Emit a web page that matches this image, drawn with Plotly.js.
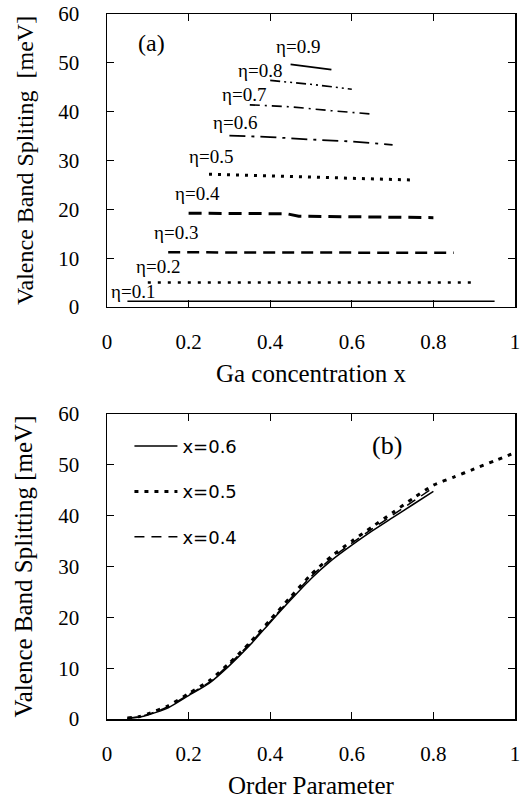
<!DOCTYPE html>
<html>
<head>
<meta charset="utf-8">
<script src="https://cdn.plot.ly/plotly-3.0.1.min.js"></script>
<style>html,body{margin:0;padding:0;background:#fff;}#chart{width:528px;height:801px;}</style>
</head>
<body>
<div id="chart"></div>
<script>
// ---------- Panel (a): splitting vs Ga concentration, one curve per order parameter ----------
const etaLabels = ['η=0.1','η=0.2','η=0.3','η=0.4','η=0.5','η=0.6','η=0.7','η=0.8','η=0.9'];
const eta01X = [0.05, 0.95];                    const eta01Y = [1.2, 1.2];
const eta02X = [0.10, 0.90];                    const eta02Y = [5.0, 5.0];
const eta03X = [0.15, 0.50, 0.85];              const eta03Y = [11.2, 11.2, 11.1];
const eta04X = [0.20, 0.44, 0.47, 0.80];        const eta04Y = [19.2, 19.1, 18.6, 18.3];
const eta05X = [0.25, 0.50, 0.75];              const eta05Y = [27.2, 26.6, 26.0];
const eta06X = [0.30, 0.40, 0.50, 0.60, 0.70];  const eta06Y = [35.1, 34.8, 34.3, 33.9, 33.2];
const eta07X = [0.35, 0.45, 0.55, 0.65];        const eta07Y = [41.4, 41.0, 40.2, 39.5];
const eta08X = [0.40, 0.50, 0.60];              const eta08Y = [46.4, 45.6, 44.6];
const eta09X = [0.45, 0.55];                    const eta09Y = [49.7, 48.6];
// label anchor positions (data coords) for the η labels
const etaLabelX = [0.064, 0.125, 0.169, 0.221, 0.255, 0.314, 0.336, 0.375, 0.468];
const etaLabelY = [3.1, 8.2, 15.2, 23.2, 30.9, 37.7, 43.6, 48.4, 53.3];

// ---------- Panel (b): splitting vs order parameter for three Ga concentrations ----------
const seriesNames = ['x=0.6', 'x=0.5', 'x=0.4'];
const orderA = [0.05, 0.08, 0.10, 0.15, 0.20, 0.25, 0.30, 0.35, 0.40, 0.45, 0.50, 0.55, 0.60, 0.65, 0.70, 0.75, 0.80];
const split06 = [0.1, 0.4, 0.8, 2.2, 4.6, 7.0, 10.5, 14.5, 19.0, 23.4, 27.6, 31.2, 34.2, 37.0, 39.6, 42.2, 44.8];
const orderB = [0.05, 0.08, 0.10, 0.15, 0.20, 0.25, 0.30, 0.35, 0.40, 0.45, 0.50, 0.55, 0.60, 0.65, 0.70, 0.75, 0.80, 0.85, 0.90, 0.95, 1.00];
const split05 = [0.2, 0.5, 1.0, 2.6, 5.0, 7.5, 11.0, 15.0, 19.5, 24.0, 28.4, 32.0, 35.0, 37.8, 40.6, 43.4, 46.0, 47.6, 49.2, 50.8, 52.4];
const split04 = [0.15, 0.45, 0.9, 2.4, 4.8, 7.2, 10.8, 14.8, 19.2, 23.7, 28.0, 31.6, 34.6, 37.4, 40.1, 42.8, 45.5];

const xTickVals = [0, 0.2, 0.4, 0.6, 0.8, 1];
const xTickText = ['0', '0.2', '0.4', '0.6', '0.8', '1'];
const yTickVals = [0, 10, 20, 30, 40, 50, 60];

const SERIF = 'Liberation Serif, Times New Roman, serif';
const SANS = 'DejaVu Sans, Verdana, sans-serif';

function etaTrace(x, y, dash, width) {
  return {x: x, y: y, xaxis: 'x', yaxis: 'y', mode: 'lines', showlegend: false,
          line: {color: 'black', width: width, dash: dash}, hoverinfo: 'skip'};
}

const traces = [
  etaTrace(eta01X, eta01Y, 'solid', 1.5),
  etaTrace(eta02X, eta02Y, '3px,7px', 2.5),
  etaTrace(eta03X, eta03Y, '12px,7px', 2.5),
  etaTrace(eta04X, eta04Y, '13px,7px', 3),
  etaTrace(eta05X, eta05Y, '3px,6px', 3),
  etaTrace(eta06X, eta06Y, '16px,6px,3px,6px', 1.8),
  etaTrace(eta07X, eta07Y, '10px,5px,2px,5px', 1.6),
  etaTrace(eta08X, eta08Y, '10px,4px,2px,4px,2px,4px', 1.6),
  etaTrace(eta09X, eta09Y, 'solid', 1.8),
  {x: orderA, y: split06, xaxis: 'x2', yaxis: 'y2', mode: 'lines', name: seriesNames[0],
   legendgroup: 'g1', line: {color: 'black', width: 1.5, shape: 'spline', smoothing: 0.6}},
  {x: orderB, y: split05, xaxis: 'x2', yaxis: 'y2', mode: 'lines', name: seriesNames[1],
   legendgroup: 'g2', line: {color: 'black', width: 3, dash: '4px,6px', shape: 'spline', smoothing: 0.6}},
  {x: orderA, y: split04, xaxis: 'x2', yaxis: 'y2', mode: 'lines', name: seriesNames[2],
   legendgroup: 'g3', line: {color: 'black', width: 1.5, dash: '10px,7px', shape: 'spline', smoothing: 0.6}}
];

const annotations = etaLabels.map((t, i) => ({
  text: t, x: etaLabelX[i], y: etaLabelY[i], xref: 'x', yref: 'y', showarrow: false,
  font: {family: SERIF, size: 19, color: 'black'}
}));
annotations.push({text: '(a)', x: 0.11, y: 54.1, xref: 'x', yref: 'y', showarrow: false,
  font: {family: SERIF, size: 24, color: 'black'}});
annotations.push({text: '(b)', x: 0.686, y: 53.9, xref: 'x2', yref: 'y2', showarrow: false,
  font: {family: SERIF, size: 26, color: 'black'}});

function xAx(anchor, title) {
  return {anchor: anchor, domain: [0, 1], range: [0, 1], tickvals: xTickVals, ticktext: xTickText,
    ticks: 'inside', ticklen: 7, tickwidth: 1.3, tickcolor: 'black', mirror: 'ticks', showline: true,
    linecolor: 'black', linewidth: 1.5, showgrid: false, zeroline: false, ticklabelstandoff: 15,
    tickfont: {family: SERIF, size: 21, color: 'black'},
    title: {text: title, font: {family: SERIF, size: 25, color: 'black'}, standoff: 12}};
}
function yAx(anchor, domain, title, tsize) {
  return {anchor: anchor, domain: domain, range: [0, 60], tickvals: yTickVals,
    ticks: 'inside', ticklen: 7, tickwidth: 1.3, tickcolor: 'black', mirror: 'ticks', showline: true,
    linecolor: 'black', linewidth: 1.5, showgrid: false, zeroline: false, ticklabelstandoff: 22,
    tickfont: {family: SERIF, size: 21, color: 'black'},
    title: {text: title, font: {family: SERIF, size: tsize, color: 'black'}, standoff: 18}};
}

const layout = {
  width: 528, height: 801,
  margin: {l: 107, r: 13, t: 14, b: 82},
  paper_bgcolor: 'white', plot_bgcolor: 'white',
  xaxis: xAx('y', 'Ga concentration x'),
  yaxis: yAx('x', [0.5844, 1], 'Valence Band Spliting  [meV]', 24),
  xaxis2: xAx('y2', 'Order Parameter'),
  yaxis2: yAx('x2', [0, 0.4326], 'Valence Band Splitting [meV]', 25),
  annotations: annotations,
  showlegend: true,
  legend: {x: 0.055, y: 0.413, xanchor: 'left', yanchor: 'top', bgcolor: 'rgba(0,0,0,0)',
    borderwidth: 0, traceorder: 'grouped', tracegroupgap: 19, itemwidth: 43,
    font: {family: SANS, size: 18, color: 'black'}}
};

Plotly.newPlot('chart', traces, layout, {staticPlot: true, displayModeBar: false});
</script>
</body>
</html>
